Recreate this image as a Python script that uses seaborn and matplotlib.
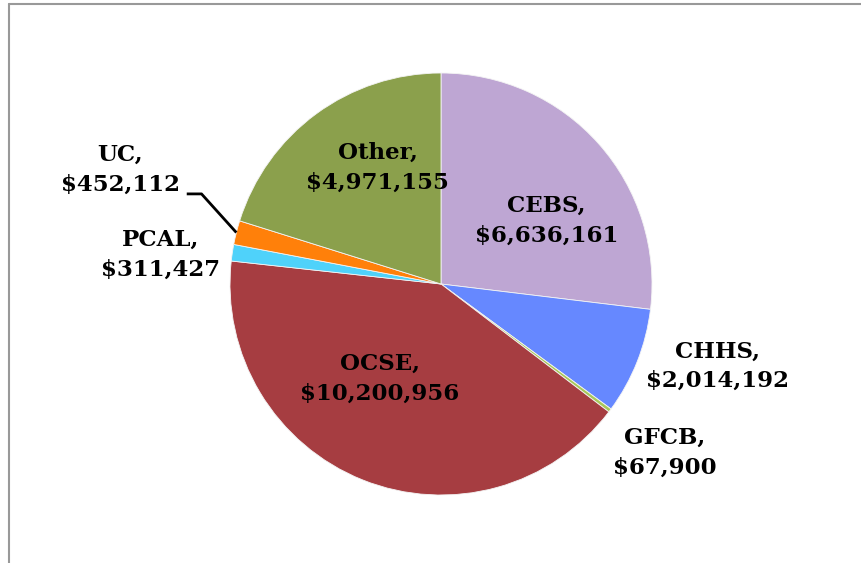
import numpy as np
import seaborn as sns
import matplotlib.pyplot as plt
from matplotlib.lines import Line2D

sns.set_theme(style="white")
plt.rcParams['font.family'] = ['DejaVu Serif']

# data, clockwise from 12 o'clock
names = ['CEBS', 'CHHS', 'GFCB', 'OCSE', 'PCAL', 'UC', 'Other']
amounts = [6636161, 2014192, 67900, 10200956, 311427, 452112, 4971155]
colors = ['#BEA6D3', '#6688FF', '#A8C85A', '#A63D41', '#4FD2FA', '#FF800A', '#8BA04C']
# label anchor spots in pie units (radius = 1)
lab_x = [0.50, 1.31, 1.06, -0.29, -1.33, -1.52, -0.30]
lab_y = [0.30, -0.39, -0.80, -0.45, 0.14, 0.54, 0.55]

W, H = 862, 563
cx, cy, R = 441, 284, 211

fig = plt.figure(figsize=(W / 100, H / 100), dpi=100)
ax = fig.add_axes([0, 0, 1, 1])
ax.pie(amounts, colors=colors, startangle=90, counterclock=False,
       radius=1, wedgeprops=dict(linewidth=0.6, edgecolor='#f4f4f4'))
ax.set_xlim(-cx / R, (W - cx) / R)
ax.set_ylim((cy - H) / R, cy / R)
ax.set_aspect('auto')
ax.axis('off')

for n, a, x, y in zip(names, amounts, lab_x, lab_y):
    ax.text(x, y, f"{n},\n${a:,}", ha='center', va='center', fontsize=16.5,
            fontweight='bold', linespacing=1.45, color='black')

# leader line for UC
frac = np.cumsum([0] + amounts) / sum(amounts)
i = names.index('UC')
mid = np.deg2rad(90 - 360 * (frac[i] + frac[i + 1]) / 2)
ax.plot([-1.205, -1.135, np.cos(mid)], [0.427, 0.427, np.sin(mid)],
        color='black', lw=2, solid_capstyle='butt')

# chart frame (top and left edges visible)
fig.add_artist(Line2D([9 / W, 9 / W], [0, 1 - 4 / H], color='#999999', lw=1.5))
fig.add_artist(Line2D([9 / W, 1], [1 - 4 / H, 1 - 4 / H], color='#999999', lw=1.5))

fig.savefig('out.png', dpi=100)
